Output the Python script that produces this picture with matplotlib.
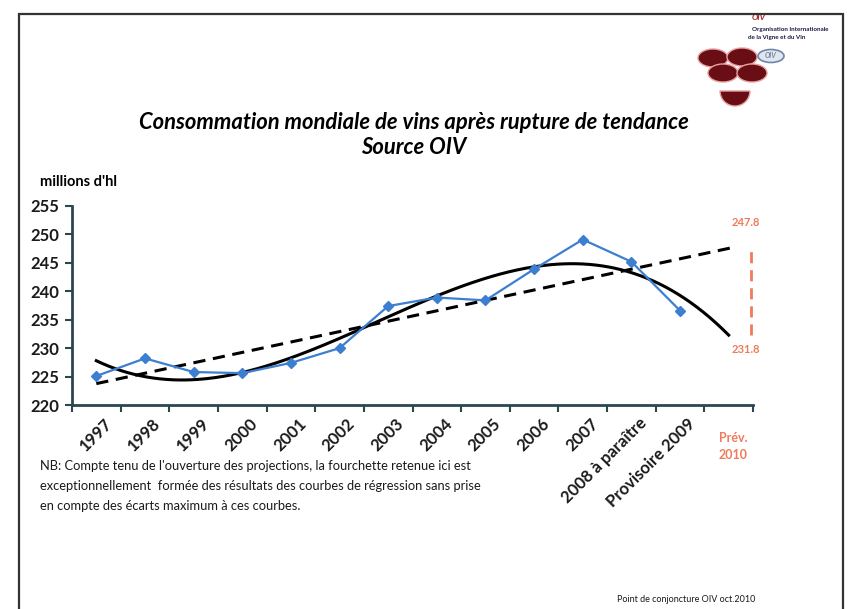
import numpy as np
import matplotlib
matplotlib.use("Agg")
import matplotlib.pyplot as plt
from matplotlib.patches import Ellipse, Rectangle, Wedge

plt.rcParams['font.family'] = ['Lato', 'DejaVu Sans']

# --- data ---
years = ["1997", "1998", "1999", "2000", "2001", "2002", "2003", "2004",
         "2005", "2006", "2007", "2008 à paraître", "Provisoire 2009"]
forecast_label = "Prév.\n2010"
consumption = [225.1, 228.2, 225.8, 225.6, 227.4, 230.0, 237.4, 238.9,
               238.4, 243.9, 249.1, 245.2, 236.6]
range_labels = ["247.8", "231.8"]

TITLE = "Consommation mondiale de vins après rupture de tendance\nSource OIV"
NOTE = ("NB: Compte tenu de l'ouverture des projections, la fourchette retenue ici est\n"
        "exceptionnellement  formée des résultats des courbes de régression sans prise\n"
        "en compte des écarts maximum à ces courbes.")
SOURCE = "Point de conjoncture OIV oct.2010"

BLUE = "#3c7fd0"
SALMON = "#f07a5a"
AXIS = "#2c4650"
WINE = "#6a0e16"

W, H = 858, 609
fig = plt.figure(figsize=(W / 100, H / 100), dpi=100)


def fx(px):
    return px / W


def fy(py):
    return 1 - py / H


# slide frame
fig.patches.append(Rectangle((fx(19), fy(640)), fx(824), 626 / H, transform=fig.transFigure,
                             fill=False, edgecolor="#333333", lw=1.6))

ax = fig.add_axes([fx(72), fy(405), fx(753 - 72), (405 - 206) / H])

x = np.arange(len(consumption))
x_ext = np.arange(len(consumption) + 1)

# regression lines (Excel-style trend lines, extended one period)
lin = np.polyfit(x, consumption, 1)
cub = np.polyfit(x, consumption, 3)
xs = np.linspace(0, len(consumption), 300)

ax.plot([0, len(consumption) + 0.1], np.polyval(lin, [0, len(consumption) + 0.1]),
        color="black", lw=2.2, ls=(0, (4, 2.5)), zorder=3)
ax.plot(xs, np.polyval(cub, xs), color="black", lw=2.2, zorder=3)
ax.plot(x, consumption, color=BLUE, lw=1.6, marker="D", ms=5, zorder=4)

# forecast range bracket
end = len(consumption)
hi, lo = np.polyval(lin, end), np.polyval(cub, end)
ax.plot([13.45, 13.45], [lo, hi], color=SALMON, lw=2, ls=(0, (4, 2.5)), clip_on=False)
ax.text(13.35, hi + 4.5, range_labels[0], color=SALMON, fontsize=8, fontweight="bold",
        ha="center", va="center", clip_on=False)
ax.text(13.35, lo - 2.5, range_labels[1], color=SALMON, fontsize=8, fontweight="bold",
        ha="center", va="center", clip_on=False)

ax.set_xlim(-0.5, len(consumption) + 0.5)
ax.set_ylim(220, 255)
ax.set_yticks(np.arange(220, 256, 5))
ax.set_xticks(np.arange(-0.5, len(consumption) + 1, 1), minor=False)
ax.set_xticklabels([])
for i, lab in enumerate(years):
    ax.text(i + 0.15, 218.2, lab, rotation=45, ha="right", va="top", rotation_mode="anchor",
            fontsize=12, fontweight="bold", color="#1a1a1a")
ax.text(end + 0.1, 215.3, forecast_label, color=SALMON, fontsize=9, fontweight="bold",
        ha="center", va="top", linespacing=1.5)

for s in ["top", "right"]:
    ax.spines[s].set_visible(False)
for s in ["left", "bottom"]:
    ax.spines[s].set_color(AXIS)
    ax.spines[s].set_linewidth(2)
ax.tick_params(axis="both", colors=AXIS, width=1.5, length=5)
ax.tick_params(axis="y", labelsize=12, labelcolor="#1a1a1a", pad=4)
for t in ax.get_yticklabels():
    t.set_fontweight("bold")

# texts
fig.text(fx(414), fy(135), TITLE, ha="center", va="center", fontsize=15.8, fontweight="bold",
         fontstyle="italic", linespacing=1.2)
fig.text(fx(40), fy(182), "millions d'hl", ha="left", va="center", fontsize=10.5,
         fontweight="bold")
fig.text(fx(40), fy(486), NOTE, ha="left", va="center", fontsize=9.3, linespacing=1.75,
         color="#1a1a1a")
fig.text(fx(755), fy(600), SOURCE, ha="right", va="center", fontsize=6.5, color="#1a1a1a")

# OIV logo
lax = fig.add_axes([0, 0, 1, 1], facecolor="none")
lax.set_xlim(0, W)
lax.set_ylim(H, 0)
lax.axis("off")
for cx, cy in [(713, 58), (742, 57), (723, 73), (752, 73)]:
    lax.add_patch(Ellipse((cx, cy), 30, 18, facecolor=WINE, edgecolor="#e8a0a0", lw=1))
lax.add_patch(Wedge((735, 91), 15, 0, 180, facecolor=WINE, edgecolor="#e8a0a0", lw=1))
lax.add_patch(Ellipse((771, 56), 26, 13, facecolor="#dfe6ee", edgecolor="#6f86a8", lw=1.2))
lax.text(771, 56, "OIV", fontsize=5, color="#6f86a8", ha="center", va="center",
         fontweight="bold", fontstyle="italic")
lax.text(752, 18, "OIV", fontsize=6, color="#b02020", fontweight="bold", fontstyle="italic",
         ha="left", va="center")
lax.text(752, 29, "Organisation Internationale", fontsize=4.5, color="#1a1a40",
         fontweight="bold", ha="left", va="center")
lax.text(748, 38, "de la Vigne et du Vin", fontsize=4.5, color="#1a1a40",
         fontweight="bold", ha="left", va="center")

fig.savefig("out.png", dpi=100)
